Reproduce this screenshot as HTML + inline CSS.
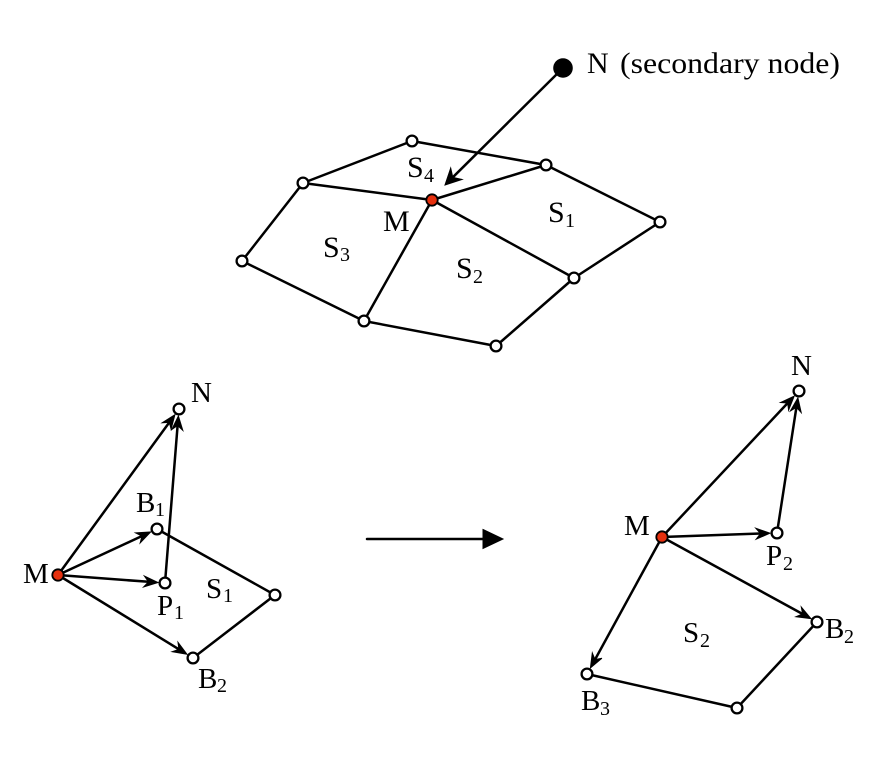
<!DOCTYPE html>
<html>
<head>
<meta charset="utf-8">
<style>
html,body{margin:0;padding:0;background:#fff;}
svg{display:block;}
text{font-family:"Liberation Serif","DejaVu Serif",serif;fill:#000;}
.t{font-size:30px;}
.b{font-size:29px;}
.s{font-size:20px;}
</style>
</head>
<body>
<svg width="892" height="780" viewBox="0 0 892 780" xmlns="http://www.w3.org/2000/svg">
<g stroke="#000" stroke-width="2.5" fill="none" stroke-linecap="round">
  <!-- top mesh -->
  <line x1="412" y1="141" x2="303" y2="183"/>
  <line x1="412" y1="141" x2="546" y2="165"/>
  <line x1="303" y1="183" x2="432" y2="200"/>
  <line x1="432" y1="200" x2="546" y2="165"/>
  <line x1="546" y1="165" x2="660" y2="222"/>
  <line x1="660" y1="222" x2="574" y2="278"/>
  <line x1="432" y1="200" x2="574" y2="278"/>
  <line x1="432" y1="200" x2="364" y2="321"/>
  <line x1="303" y1="183" x2="242" y2="261"/>
  <line x1="242" y1="261" x2="364" y2="321"/>
  <line x1="364" y1="321" x2="496" y2="346"/>
  <line x1="496" y1="346" x2="574" y2="278"/>
  <line x1="563" y1="68" x2="452.8" y2="177.3"/>

  <!-- bottom left -->
  <line x1="58" y1="575" x2="169.3" y2="422.4"/>
  <line x1="165" y1="583" x2="177.6" y2="425.5"/>
  <line x1="58" y1="575" x2="142" y2="536"/>
  <line x1="58" y1="575" x2="148.5" y2="581.8"/>
  <line x1="58" y1="575" x2="178.9" y2="649.3"/>
  <line x1="157" y1="529" x2="275" y2="595"/>
  <line x1="275" y1="595" x2="193" y2="658"/>

  <!-- big arrow -->
  <line x1="367" y1="539" x2="486" y2="539"/>

  <!-- bottom right -->
  <line x1="662" y1="537" x2="787.7" y2="403"/>
  <line x1="777" y1="533" x2="796.4" y2="407.3"/>
  <line x1="662" y1="537" x2="760.5" y2="533.5"/>
  <line x1="662" y1="537" x2="802.6" y2="614"/>
  <line x1="662" y1="537" x2="595" y2="659.6"/>
  <line x1="587" y1="674" x2="737" y2="708"/>
  <line x1="737" y1="708" x2="817" y2="622"/>
</g>

<!-- arrowheads -->
<g fill="#000" stroke="#000" stroke-width="1" stroke-linejoin="miter">
  <polygon points="445,185 462,179.4 452.8,177.3 450.7,168.1"/>

  <polygon points="174.9,414.7 171.1,429.2 169.3,422.4 162.2,422.8"/>
  <polygon points="178.4,416 182.8,430.4 177.6,425.5 171.8,429.5"/>
  <polygon points="150.6,532 140.2,542.9 142,536 135.6,532.9"/>
  <polygon points="158,582.5 143.6,587 148.5,581.8 144.4,576"/>
  <polygon points="187,654.3 172.2,651.7 178.9,649.3 178,642.3"/>

  <polygon points="483,529.5 503,539 483,548.5"/>

  <polygon points="794.2,396.1 788.6,410.1 787.7,403 780.6,402.5"/>
  <polygon points="797.9,397.9 801.2,412.5 796.4,407.3 790.4,410.9"/>
  <polygon points="770,533.2 756.2,539.2 760.5,533.5 755.8,528.2"/>
  <polygon points="810.9,618.6 796,616.7 802.6,614 801.3,607.1"/>
  <polygon points="590.4,667.9 592.3,653 595,659.6 601.9,658.2"/>
</g>

<!-- nodes -->
<g fill="#fff" stroke="#000" stroke-width="2.3">
  <circle cx="412" cy="141" r="5.4"/>
  <circle cx="546" cy="165" r="5.4"/>
  <circle cx="303" cy="183" r="5.4"/>
  <circle cx="660" cy="222" r="5.4"/>
  <circle cx="242" cy="261" r="5.4"/>
  <circle cx="574" cy="278" r="5.4"/>
  <circle cx="364" cy="321" r="5.4"/>
  <circle cx="496" cy="346" r="5.4"/>

  <circle cx="179" cy="409" r="5.4"/>
  <circle cx="157" cy="529" r="5.4"/>
  <circle cx="165" cy="583" r="5.4"/>
  <circle cx="275" cy="595" r="5.4"/>
  <circle cx="193" cy="658" r="5.4"/>

  <circle cx="799" cy="391" r="5.4"/>
  <circle cx="777" cy="533" r="5.4"/>
  <circle cx="817" cy="622" r="5.4"/>
  <circle cx="587" cy="674" r="5.4"/>
  <circle cx="737" cy="708" r="5.4"/>
</g>
<g fill="#e6300e" stroke="#000" stroke-width="1.8">
  <circle cx="432" cy="200" r="5.7"/>
  <circle cx="58" cy="575" r="5.7"/>
  <circle cx="662" cy="537" r="5.7"/>
</g>
<circle cx="563" cy="68" r="9.8" fill="#000"/>

<!-- top labels -->
<text class="t" x="587" y="73">N</text>
<text class="t" x="620" y="73" textLength="220" lengthAdjust="spacingAndGlyphs">(secondary node)</text>
<text class="t" x="407" y="177">S</text><text class="s" x="424" y="182">4</text>
<text class="t" x="383" y="231">M</text>
<text class="t" x="548" y="222">S</text><text class="s" x="565" y="227">1</text>
<text class="t" x="323" y="257">S</text><text class="s" x="340" y="261">3</text>
<text class="t" x="456" y="278">S</text><text class="s" x="473" y="283">2</text>

<!-- bottom left labels -->
<text class="b" x="191" y="402">N</text>
<text class="b" x="136" y="512">B</text><text class="s" x="155" y="516">1</text>
<text class="b" x="23" y="583">M</text>
<text class="b" x="157" y="615">P</text><text class="s" x="174" y="619">1</text>
<text class="b" x="206" y="598">S</text><text class="s" x="223" y="602">1</text>
<text class="b" x="198" y="688">B</text><text class="s" x="217" y="692">2</text>

<!-- bottom right labels -->
<text class="b" x="791" y="375">N</text>
<text class="b" x="624" y="535">M</text>
<text class="b" x="766" y="565">P</text><text class="s" x="783" y="570">2</text>
<text class="b" x="683" y="642">S</text><text class="s" x="700" y="647">2</text>
<text class="b" x="825" y="638">B</text><text class="s" x="844" y="643">2</text>
<text class="b" x="581" y="710">B</text><text class="s" x="600" y="715">3</text>
</svg>
</body>
</html>
